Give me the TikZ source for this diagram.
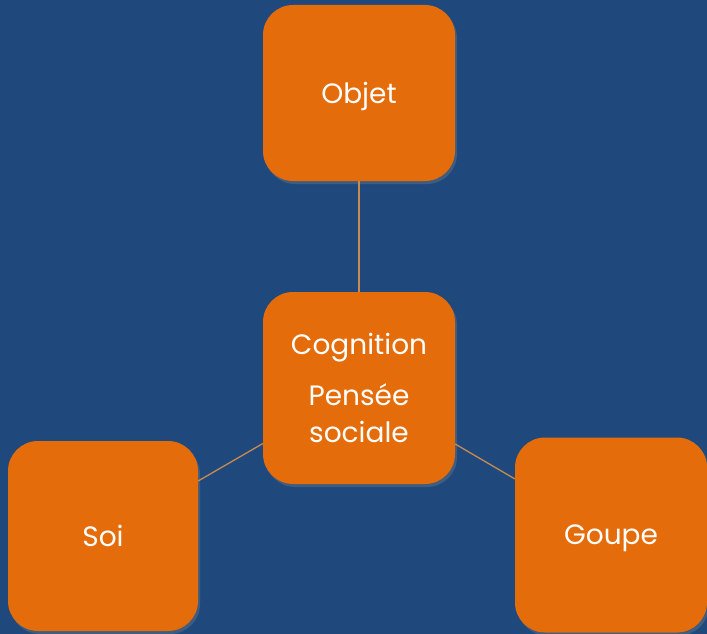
\documentclass[tikz,border=0pt]{standalone}
\usepackage{fontspec}
\setmainfont{Poppins}
\usetikzlibrary{shadows}

\definecolor{fond}{HTML}{1F497D}
\definecolor{orangebox}{HTML}{E46C0A}
\definecolor{lien}{HTML}{C98A4F}

\tikzset{
	boite/.style={shape=rectangle, rounded corners=30pt, fill=orangebox, draw=none,
		text=white, align=center, font=\fontsize{28}{37}\selectfont,
		minimum width=192pt, minimum height=192pt, inner sep=0pt,
		drop shadow={opacity=0.35, shadow xshift=2pt, shadow yshift=-3pt}},
	lienstyle/.style={draw=lien, line width=1.3pt}
}

\begin{document}
\begin{tikzpicture}[x=1pt, y=-1pt]
	
	\fill[fond] (0,0) rectangle (707,634);
	\useasboundingbox (0,0) rectangle (707,634);
	
	\node[boite, minimum height=176pt, text depth=0pt] (objet) at (359, 93)     {Objet};
	\node[boite] (cognition) at (359, 388)     {Cognition\\[14pt]Pens\'ee\\sociale};
	\node[boite, minimum width=190pt, minimum height=190pt] (soi) at (103, 536)     {Soi};
	\node[boite, minimum height=195pt, text depth=0pt] (goupe) at (611, 535)     {Goupe};
		
	\path[lienstyle] (objet) edge (cognition);
	\path[lienstyle] (cognition) edge (soi);
	\path[lienstyle] (cognition) edge (goupe);
	\end{tikzpicture}
\end{document}
